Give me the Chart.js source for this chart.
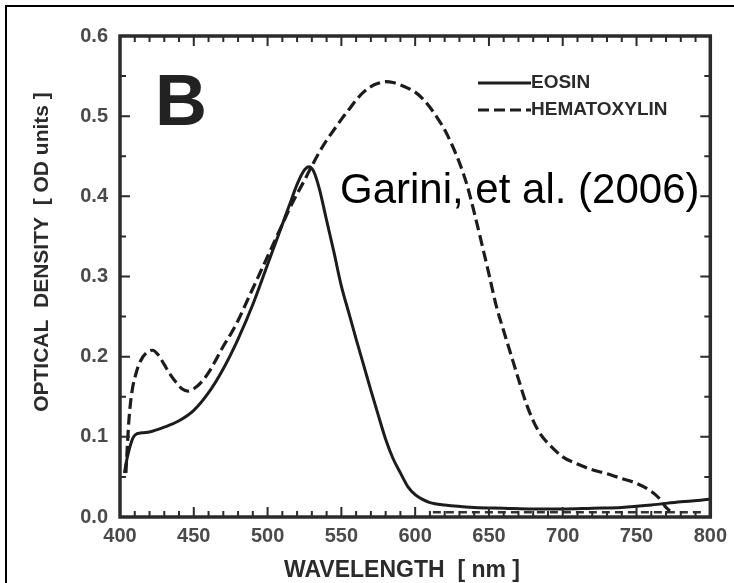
<!DOCTYPE html>
<html>
<head>
<meta charset="utf-8">
<script src="https://cdn.jsdelivr.net/npm/chart.js@4.4.0/dist/chart.umd.min.js"></script>
<style>
  html, body { margin: 0; padding: 0; background: #fff; overflow: hidden; }
  #wrap { width: 734px; height: 583px; }
</style>
</head>
<body>
<div id="wrap"><canvas id="chart" width="734" height="583"></canvas></div>
<script>
// absorption spectra (OD units vs wavelength in nm)
const eosinNm = [403, 405, 408, 410, 415, 420, 430, 440, 450, 460, 470, 480, 490, 500, 510, 515, 520, 525, 528,
  531, 535, 540, 545, 550, 555, 560, 565, 570, 575, 580, 585, 590, 595, 600, 605, 610, 620, 640, 660, 680, 700,
  720, 740, 760, 780, 800];
const eosinOd = [0.055, 0.075, 0.095, 0.102, 0.105, 0.106, 0.112, 0.12, 0.133, 0.155, 0.185, 0.222, 0.265, 0.315,
  0.365, 0.39, 0.415, 0.433, 0.437, 0.432, 0.41, 0.37, 0.33, 0.288, 0.255, 0.222, 0.19, 0.158, 0.127, 0.097,
  0.073, 0.055, 0.038, 0.028, 0.022, 0.018, 0.015, 0.012, 0.011, 0.01, 0.01, 0.011, 0.012, 0.015, 0.019, 0.022];

const hemaNm = [404, 406, 408, 411, 414, 418, 422, 426, 430, 434, 438, 442, 446, 450, 455, 460, 465, 470, 475,
  480, 485, 490, 495, 500, 505, 510, 515, 520, 525, 530, 535, 540, 545, 550, 555, 560, 565, 570, 575, 580, 585,
  590, 595, 600, 605, 610, 615, 620, 625, 630, 635, 640, 645, 650, 655, 660, 665, 670, 675, 680, 685, 690, 700,
  710, 720, 730, 740, 750, 760, 765, 770, 775];
const hemaOd = [0.055, 0.12, 0.155, 0.18, 0.195, 0.205, 0.208, 0.202, 0.19, 0.178, 0.168, 0.16, 0.157, 0.16,
  0.168, 0.18, 0.196, 0.213, 0.228, 0.245, 0.265, 0.285, 0.305, 0.325, 0.345, 0.365, 0.385, 0.403, 0.42, 0.438,
  0.455, 0.47, 0.483, 0.496, 0.508, 0.52, 0.53, 0.537, 0.541, 0.543, 0.542, 0.539, 0.535, 0.53, 0.522, 0.511,
  0.498, 0.483, 0.464, 0.442, 0.415, 0.38, 0.342, 0.303, 0.263, 0.232, 0.202, 0.172, 0.143, 0.12, 0.103, 0.092,
  0.075, 0.066, 0.059, 0.054, 0.048, 0.042, 0.032, 0.024, 0.012, 0.004];

// dashed trace that runs just above the axis on the right side
const baseNm = [612, 650, 700, 750, 795];
const baseOd = [0.006, 0.006, 0.006, 0.006, 0.006];

const wavelengthTicks = [400, 450, 500, 550, 600, 650, 700, 750, 800];
const densityTicks = [0, 0.1, 0.2, 0.3, 0.4, 0.5, 0.6];

const INK = '#2b2b2b';
const FONT = '"Liberation Sans", Arial, sans-serif';

const points = (xs, ys) => xs.map((x, i) => ({ x, y: ys[i] }));

const decor = {
  id: 'decor',
  afterDraw(chart) {
    const { ctx, chartArea: a, scales: { x, y } } = chart;
    ctx.save();

    // outer picture border (left and top edge)
    ctx.strokeStyle = '#000';
    ctx.lineWidth = 2;
    ctx.beginPath();
    ctx.moveTo(6, 583);
    ctx.lineTo(6, 6);
    ctx.lineTo(734, 6);
    ctx.stroke();

    // plot frame
    ctx.strokeStyle = INK;
    ctx.lineWidth = 3.5;
    ctx.strokeRect(a.left, a.top, a.right - a.left, a.bottom - a.top);

    // inward ticks on all four sides
    ctx.lineWidth = 2;
    ctx.beginPath();
    for (let v = 400; v <= 800; v += 10) {
      const px = x.getPixelForValue(v);
      const len = v % 50 === 0 ? 10 : 6;
      ctx.moveTo(px, a.bottom); ctx.lineTo(px, a.bottom - len);
      ctx.moveTo(px, a.top); ctx.lineTo(px, a.top + len);
    }
    for (let i = 0; i <= 12; i++) {
      const py = y.getPixelForValue(i * 0.05);
      const len = i % 2 === 0 ? 10 : 6;
      ctx.moveTo(a.left, py); ctx.lineTo(a.left + len, py);
      ctx.moveTo(a.right, py); ctx.lineTo(a.right - len, py);
    }
    ctx.stroke();

    // legend
    ctx.font = 'bold 19px ' + FONT;
    ctx.textBaseline = 'middle';
    ctx.fillStyle = INK;
    [0, 1].forEach((di, row) => {
      const ds = chart.data.datasets[di];
      const ly = 83 + row * 27;
      ctx.strokeStyle = ds.borderColor;
      ctx.lineWidth = ds.borderWidth;
      ctx.setLineDash(ds.borderDash || []);
      ctx.beginPath();
      ctx.moveTo(478, ly); ctx.lineTo(531, ly);
      ctx.stroke();
      ctx.setLineDash([]);
      ctx.fillText(ds.label, 531, ly);
    });

    // panel letter
    ctx.textBaseline = 'alphabetic';
    ctx.fillStyle = '#222';
    ctx.font = 'bold 72px ' + FONT;
    ctx.fillText('B', 155, 125);

    // citation
    ctx.fillStyle = '#000';
    ctx.font = '42px ' + FONT;
    ctx.fillText('Garini, et al. (2006)', 340, 203);

    // axis titles
    ctx.fillStyle = INK;
    ctx.textAlign = 'center';
    ctx.textBaseline = 'middle';
    ctx.font = 'bold 23px ' + FONT;
    ctx.fillText('WAVELENGTH  [ nm ]', 402, 571);
    ctx.translate(42, 252);
    ctx.rotate(-Math.PI / 2);
    ctx.font = 'bold 21px ' + FONT;
    ctx.fillText('OPTICAL  DENSITY  [ OD units ]', 0, 0);
    ctx.restore();
  }
};

new Chart(document.getElementById('chart'), {
  type: 'line',
  data: {
    datasets: [
      {
        label: 'EOSIN',
        data: points(eosinNm, eosinOd),
        borderColor: '#1c1c1c',
        borderWidth: 3,
        pointRadius: 0,
        cubicInterpolationMode: 'monotone'
      },
      {
        label: 'HEMATOXYLIN',
        data: points(hemaNm, hemaOd),
        borderColor: '#1c1c1c',
        borderWidth: 3.2,
        borderDash: [11, 5],
        pointRadius: 0,
        cubicInterpolationMode: 'monotone'
      },
      {
        label: 'baseline',
        data: points(baseNm, baseOd),
        borderColor: '#333',
        borderWidth: 2.4,
        borderDash: [8, 5],
        pointRadius: 0
      }
    ]
  },
  options: {
    responsive: false,
    devicePixelRatio: 1,
    animation: false,
    layout: { padding: { top: 36, right: 21, left: 0, bottom: 0 } },
    plugins: { legend: { display: false }, tooltip: { enabled: false } },
    scales: {
      x: {
        type: 'linear',
        min: 400,
        max: 800,
        afterBuildTicks: s => { s.ticks = wavelengthTicks.map(value => ({ value })); },
        afterFit: s => { s.height = 66; },
        grid: { display: false, drawTicks: false },
        border: { display: false },
        ticks: {
          padding: 7,
          autoSkip: false,
          maxRotation: 0,
          color: '#4a4a4a',
          font: { family: FONT, size: 20, weight: 'bold' }
        }
      },
      y: {
        type: 'linear',
        min: 0,
        max: 0.6,
        afterBuildTicks: s => { s.ticks = densityTicks.map(value => ({ value })); },
        afterFit: s => { s.width = 120; },
        grid: { display: false, drawTicks: false },
        border: { display: false },
        ticks: {
          padding: 12,
          color: '#4a4a4a',
          font: { family: FONT, size: 20, weight: 'bold' },
          callback: v => v.toFixed(1)
        }
      }
    }
  },
  plugins: [decor]
});
</script>
</body>
</html>
